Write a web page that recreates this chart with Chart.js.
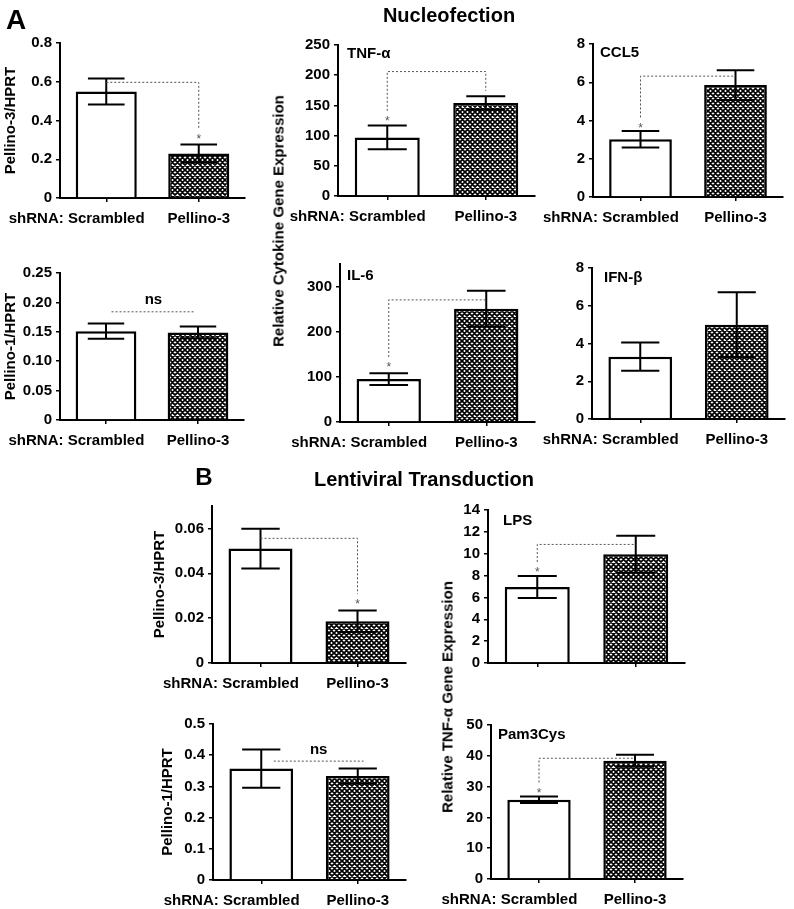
<!DOCTYPE html>
<html>
<head>
<meta charset="utf-8">
<script src="https://cdn.jsdelivr.net/npm/chart.js@4/dist/chart.umd.min.js"></script>
<style>
  body { margin: 0; width: 794px; height: 909px; position: relative; overflow: hidden; background: #fff;
         font-family: "Liberation Sans", Arial, sans-serif; font-weight: bold; color: #000; }
  canvas { position: absolute; }
  .t { position: absolute; white-space: nowrap; transform: translate(-50%, -50%); line-height: 1; }
  .r { transform: translate(-50%, -50%) rotate(-90deg); }
</style>
</head>
<body>
<div class="t" style="left:16px;top:20px;font-size:28px">A</div>
<div class="t" style="left:449px;top:15px;font-size:20px">Nucleofection</div>
<div class="t" style="left:204px;top:477px;font-size:24px">B</div>
<div class="t" style="left:424px;top:479px;font-size:20px">Lentiviral Transduction</div>
<div class="t r" style="left:278px;top:221px;font-size:15px">Relative Cytokine Gene Expression</div>
<div class="t r" style="left:447px;top:697px;font-size:15px">Relative TNF-α Gene Expression</div>
<script>
const FONT = '"Liberation Sans", Arial, sans-serif';
const PAD_LEFT = 70;

const groups = ["Scrambled", "Pellino-3"];
const groupPrefix = "shRNA: ";

// A - nucleofection
// sig arrays: [bracket level, left drop end, right drop end]
const nucPel3 = [0.55, 0.23];
const nucPel3Sem = [0.067, 0.046];
const nucPel3Ticks = [0, 0.2, 0.4, 0.6, 0.8];
const nucPel3Sig = [0.597, null, 0.36];

const nucTnf = [97, 154];
const nucTnfSem = [19.7, 11];
const nucTnfTicks = [0, 50, 100, 150, 200, 250];
const nucTnfSig = [206, 141, 174];

const nucCcl5 = [3.02, 5.85];
const nucCcl5Sem = [0.43, 0.78];
const nucCcl5Ticks = [0, 2, 4, 6, 8];
const nucCcl5Sig = [6.32, 4.16, null];

const nucPel1 = [0.151, 0.149];
const nucPel1Sem = [0.013, 0.010];
const nucPel1Ticks = [0, 0.05, 0.10, 0.15, 0.20, 0.25];
const nucPel1Ns = [0.184, 0.06, 0.97]; // level, start, end (in category units)

const nucIl6 = [95, 251];
const nucIl6Sem = [13, 39.5];
const nucIl6Ticks = [0, 100, 200, 300];
const nucIl6Max = 350;
const nucIl6Sig = [270.5, 144, null];

const nucIfn = [3.3, 5.0];
const nucIfnSem = [0.75, 1.72];
const nucIfnTicks = [0, 2, 4, 6, 8];

// B - lentiviral transduction
const lvPel3 = [0.051, 0.0186];
const lvPel3Sem = [0.0089, 0.0048];
const lvPel3Ticks = [0, 0.02, 0.04, 0.06];
const lvPel3Max = 0.07;
const lvPel3Sig = [0.0556, null, 0.0308];

const lvLps = [6.95, 9.95];
const lvLpsSem = [1.0, 1.7];
const lvLpsTicks = [0, 2, 4, 6, 8, 10, 12, 14];
const lvLpsSig = [10.85, 9.24, null];

const lvPel1 = [0.357, 0.333];
const lvPel1Sem = [0.061, 0.024];
const lvPel1Ticks = [0, 0.1, 0.2, 0.3, 0.4, 0.5];
const lvPel1Ns = [0.381, 0.13, 1.06];

const lvPam = [25.7, 38.4];
const lvPamSem = [1.05, 1.95];
const lvPamTicks = [0, 10, 20, 30, 40, 50];
const lvPamSig = [39.2, 31.35, null];

// layout of each small chart: axis x, top of y range, right end, zero line
const panels = [
  { mean: nucPel3, sem: nucPel3Sem, ticks: nucPel3Ticks, dec: 1, sig: nucPel3Sig, title: "Pellino-3/HPRT",
    box: { x: 60, top: 42, right: 245, bottom: 198 }, yW: 60 },
  { mean: nucTnf, sem: nucTnfSem, ticks: nucTnfTicks, dec: 0, sig: nucTnfSig, tag: "TNF-α", tagAt: [9, 9],
    box: { x: 338, top: 44, right: 535, bottom: 196 }, yW: 48 },
  { mean: nucCcl5, sem: nucCcl5Sem, ticks: nucCcl5Ticks, dec: 0, sig: nucCcl5Sig, tag: "CCL5", tagAt: [7, 9],
    box: { x: 593, top: 43, right: 783, bottom: 197 }, yW: 40 },
  { mean: nucPel1, sem: nucPel1Sem, ticks: nucPel1Ticks, dec: 2, ns: nucPel1Ns, title: "Pellino-1/HPRT",
    box: { x: 60, top: 272, right: 244, bottom: 419.6 }, yW: 60 },
  { mean: nucIl6, sem: nucIl6Sem, ticks: nucIl6Ticks, max: nucIl6Max, dec: 0, sig: nucIl6Sig, tag: "IL-6", tagAt: [7, 12],
    box: { x: 340, top: 263, right: 535, bottom: 422 }, yW: 48 },
  { mean: nucIfn, sem: nucIfnSem, ticks: nucIfnTicks, dec: 0, tag: "IFN-β", tagAt: [12, 10],
    box: { x: 592, top: 267, right: 785, bottom: 419 }, yW: 40 },
  { mean: lvPel3, sem: lvPel3Sem, ticks: lvPel3Ticks, max: lvPel3Max, dec: 2, sig: lvPel3Sig, title: "Pellino-3/HPRT",
    box: { x: 212, top: 505, right: 406, bottom: 663 }, yW: 63 },
  { mean: lvLps, sem: lvLpsSem, ticks: lvLpsTicks, dec: 0, sig: lvLpsSig, tag: "LPS", tagAt: [15, 11], noLabels: true,
    box: { x: 488, top: 509, right: 685, bottom: 663 }, yW: 42 },
  { mean: lvPel1, sem: lvPel1Sem, ticks: lvPel1Ticks, dec: 1, ns: lvPel1Ns, title: "Pellino-1/HPRT",
    box: { x: 213, top: 723, right: 406, bottom: 880 }, yW: 56 },
  { mean: lvPam, sem: lvPamSem, ticks: lvPamTicks, dec: 0, sig: lvPamSig, tag: "Pam3Cys", tagAt: [7, 10],
    box: { x: 491, top: 724, right: 683, bottom: 879 }, yW: 45 }
];

function hatchPattern() {
  const c = document.createElement("canvas");
  c.width = 10; c.height = 10;
  const g = c.getContext("2d");
  g.fillStyle = "#fff";
  g.fillRect(0, 0, 10, 10);
  g.strokeStyle = "#000";
  g.lineWidth = 1.75;
  g.beginPath();
  for (let k = -20; k <= 30; k += 5) {
    g.moveTo(k, 0); g.lineTo(k + 10, 10);
    g.moveTo(k, 0); g.lineTo(k - 10, 10);
  }
  g.stroke();
  return g.createPattern(c, "repeat");
}
const hatch = hatchPattern();

function marks(p) {
  return {
    id: "marks",
    afterDatasetsDraw(chart) {
      const ctx = chart.ctx, xs = chart.scales.x, ys = chart.scales.y;
      const bars = chart.getDatasetMeta(0).data;
      ctx.save();
      // error bars
      ctx.strokeStyle = "#000";
      ctx.lineWidth = 2;
      bars.forEach((el, i) => {
        const half = el.width * 0.3;
        const yT = ys.getPixelForValue(p.mean[i] + p.sem[i]);
        const yB = ys.getPixelForValue(p.mean[i] - p.sem[i]);
        ctx.beginPath();
        ctx.moveTo(el.x, yT); ctx.lineTo(el.x, yB);
        ctx.moveTo(el.x - half, yT); ctx.lineTo(el.x + half, yT);
        ctx.moveTo(el.x - half, yB); ctx.lineTo(el.x + half, yB);
        ctx.stroke();
      });
      const x0 = xs.getPixelForValue(0), x1 = xs.getPixelForValue(1);
      ctx.strokeStyle = "#555";
      ctx.lineWidth = 1;
      ctx.setLineDash([2, 2]);
      if (p.sig) {
        const [lvl, l, r] = p.sig;
        const yL = ys.getPixelForValue(lvl);
        ctx.beginPath();
        if (l != null) { ctx.moveTo(x0, ys.getPixelForValue(l)); ctx.lineTo(x0, yL); }
        else ctx.moveTo(x0, yL);
        ctx.lineTo(x1, yL);
        if (r != null) ctx.lineTo(x1, ys.getPixelForValue(r));
        ctx.stroke();
        const side = p.mean[0] < p.mean[1] ? 0 : 1;
        const end = side === 0 ? l : r;
        ctx.setLineDash([]);
        ctx.fillStyle = "#555";
        ctx.font = "12px " + FONT;
        ctx.textAlign = "center";
        ctx.textBaseline = "middle";
        ctx.fillText("*", side === 0 ? x0 : x1, ys.getPixelForValue(end) + 11);
      }
      if (p.ns) {
        const [lvl, s, e] = p.ns;
        const yL = ys.getPixelForValue(lvl);
        const xa = x0 + s * (x1 - x0), xb = x0 + e * (x1 - x0);
        ctx.beginPath();
        ctx.moveTo(xa, yL); ctx.lineTo(xb, yL);
        ctx.stroke();
        ctx.setLineDash([]);
        ctx.fillStyle = "#000";
        ctx.font = "bold 15px " + FONT;
        ctx.textAlign = "center";
        ctx.textBaseline = "middle";
        ctx.fillText("ns", (xa + xb) / 2, yL - 11.5);
      }
      ctx.restore();
    },
    afterDraw(chart) {
      const ctx = chart.ctx, xs = chart.scales.x, area = chart.chartArea;
      ctx.save();
      ctx.fillStyle = "#000";
      ctx.font = "bold 15px " + FONT;
      ctx.textBaseline = "middle";
      // "shRNA:" hangs left of the first group label
      if (!p.noLabels) {
        const x0 = xs.getPixelForValue(0);
        const w = ctx.measureText(groups[0]).width;
        ctx.textAlign = "right";
        ctx.fillText(groupPrefix, x0 - w / 2, xs.top + 4 + 8 + 9);
      }
      if (p.tag) {
        ctx.textAlign = "left";
        ctx.fillText(p.tag, area.left + p.tagAt[0], area.top + p.tagAt[1]);
      }
      ctx.restore();
    }
  };
}

const tickFont = { family: FONT, size: 15, weight: "bold" };

panels.forEach(p => {
  const b = p.box;
  const w = Math.round(b.right - b.x + p.yW + 4 + PAD_LEFT);
  const h = Math.round(b.bottom - b.top + 12 + 30);
  const cv = document.createElement("canvas");
  cv.width = w; cv.height = h;
  cv.style.left = (b.x - p.yW - PAD_LEFT) + "px";
  cv.style.top = (b.top - 12) + "px";
  cv.style.width = w + "px";
  cv.style.height = h + "px";
  document.body.insertBefore(cv, document.body.firstChild);

  new Chart(cv, {
    type: "bar",
    data: {
      labels: groups,
      datasets: [{
        data: p.mean,
        backgroundColor: ["#ffffff", hatch],
        borderColor: "#000",
        borderWidth: 2.5,
        barPercentage: 0.66,
        categoryPercentage: 1.0
      }]
    },
    options: {
      responsive: false,
      animation: false,
      devicePixelRatio: 1,
      layout: { padding: { top: 12, right: 4, bottom: 0, left: PAD_LEFT } },
      plugins: { legend: { display: false }, tooltip: { enabled: false } },
      scales: {
        x: {
          offset: true,
          grid: { display: true, drawOnChartArea: false, drawTicks: true, tickLength: 4, color: "#000", lineWidth: 1.5, offset: false },
          border: { display: true, color: "#000", width: 2 },
          ticks: { display: !p.noLabels, color: "#000", font: tickFont, padding: 8, maxRotation: 0, autoSkip: false },
          afterFit: s => { s.height = 30; }
        },
        y: {
          min: 0,
          max: p.max != null ? p.max : p.ticks[p.ticks.length - 1],
          afterBuildTicks: s => { s.ticks = p.ticks.map(v => ({ value: v })); },
          grid: { drawOnChartArea: false, drawTicks: true, tickLength: 4, color: "#000", lineWidth: 1.5 },
          border: { display: true, color: "#000", width: 2 },
          ticks: { color: "#000", font: tickFont, padding: 4,
                   callback: v => v === 0 ? "0" : Number(v).toFixed(p.dec) },
          title: p.title
            ? { display: true, text: p.title, color: "#000", font: tickFont, padding: { top: 2, bottom: 0 } }
            : { display: false },
          afterFit: s => { s.width = p.yW; }
        }
      }
    },
    plugins: [marks(p)]
  });
});
</script>
</body>
</html>
